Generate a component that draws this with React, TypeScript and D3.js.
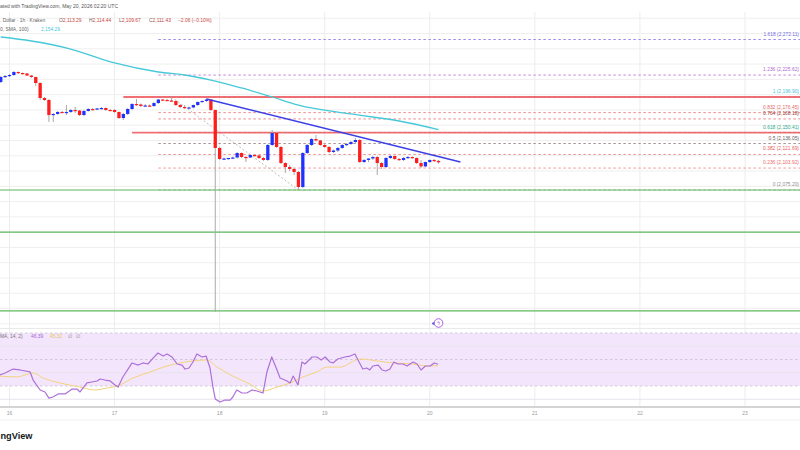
import * as d3 from 'd3'

// hourly candles, first one opens 2026-05-15 22:00 UTC (hour -2 from the 16th)
const FIRST_HOUR = -2
const OPEN = [
  2216.5, 2223.1, 2224.4, 2225.7, 2229.6, 2228.3, 2227.7, 2225.0, 2223.1, 2215.2,
  2195.6, 2193.0, 2173.3, 2174.7, 2177.3, 2176.6, 2177.3, 2179.9, 2179.2, 2173.3,
  2178.6, 2181.2, 2180.5, 2181.9, 2182.5, 2179.9, 2179.9, 2177.3, 2169.4, 2174.7,
  2181.2, 2187.7, 2187.1, 2185.1, 2185.8, 2185.1, 2189.0, 2193.6, 2193.0, 2192.3,
  2191.7, 2186.4, 2183.8, 2182.5, 2183.2, 2186.4, 2190.4, 2191.7, 2193.6, 2179.9,
  2130.2, 2115.8, 2116.4, 2117.1, 2117.7, 2123.6, 2118.4, 2117.7, 2121.0, 2120.4,
  2117.1, 2114.5, 2134.1, 2149.8, 2131.5, 2110.5, 2105.3, 2102.7, 2098.8, 2079.1,
  2123.6, 2134.1, 2141.9, 2140.0, 2134.1, 2131.5, 2124.9, 2126.9, 2130.2, 2134.1,
  2135.4, 2138.0, 2140.6, 2111.8, 2114.5, 2116.4, 2118.4, 2110.5, 2105.3, 2117.1,
  2119.7, 2115.8, 2114.5, 2117.1, 2118.4, 2117.1, 2110.5, 2106.0, 2111.8, 2114.5,
  2113.29,
]
const HIGH = [
  2224.4, 2225.7, 2227.0, 2230.9, 2230.3, 2229.0, 2228.3, 2225.7, 2223.7, 2216.5,
  2196.9, 2194.3, 2176.0, 2178.6, 2178.6, 2186.4, 2181.2, 2183.8, 2179.9, 2179.9,
  2182.5, 2182.5, 2182.5, 2183.8, 2183.2, 2181.2, 2181.2, 2177.9, 2176.0, 2182.5,
  2189.0, 2194.3, 2188.4, 2187.7, 2187.1, 2190.4, 2194.3, 2194.3, 2194.3, 2196.9,
  2192.3, 2187.7, 2186.4, 2184.5, 2187.1, 2191.0, 2192.3, 2194.9, 2194.3, 2180.5,
  2131.5, 2117.7, 2117.1, 2119.0, 2124.9, 2124.3, 2119.7, 2121.7, 2122.3, 2121.0,
  2118.4, 2135.4, 2153.7, 2151.1, 2132.8, 2111.8, 2107.9, 2104.0, 2100.1, 2124.9,
  2135.4, 2143.3, 2147.2, 2140.6, 2136.7, 2132.8, 2128.2, 2131.5, 2135.4, 2136.7,
  2139.3, 2143.3, 2141.9, 2115.8, 2117.1, 2119.7, 2119.7, 2111.8, 2118.4, 2121.0,
  2120.4, 2117.1, 2118.4, 2119.7, 2119.0, 2117.7, 2114.5, 2112.5, 2115.1, 2115.8,
  2114.44,
]
const LOW = [
  2215.2, 2221.8, 2223.1, 2224.4, 2227.0, 2226.3, 2224.4, 2221.8, 2211.3, 2193.0,
  2191.7, 2164.2, 2164.2, 2173.3, 2176.0, 2173.3, 2176.0, 2176.0, 2172.0, 2172.0,
  2177.9, 2179.2, 2179.9, 2180.5, 2178.6, 2178.6, 2176.0, 2168.1, 2166.8, 2173.3,
  2179.9, 2185.1, 2183.8, 2183.8, 2183.8, 2183.8, 2187.7, 2191.7, 2191.7, 2190.4,
  2185.1, 2182.5, 2181.2, 2181.2, 2181.9, 2185.1, 2189.7, 2190.4, 2178.6, 1915.6,
  2114.5, 2114.5, 2115.1, 2115.8, 2116.4, 2117.1, 2111.8, 2117.1, 2119.0, 2115.8,
  2113.2, 2113.2, 2132.8, 2130.2, 2109.2, 2097.5, 2100.1, 2094.8, 2075.2, 2077.8,
  2122.3, 2132.8, 2138.7, 2132.8, 2130.2, 2123.6, 2123.6, 2124.9, 2128.9, 2132.8,
  2134.1, 2136.7, 2110.5, 2110.5, 2111.8, 2114.5, 2094.8, 2102.7, 2104.0, 2115.8,
  2114.5, 2113.2, 2113.2, 2115.8, 2115.8, 2109.2, 2104.0, 2105.3, 2110.5, 2111.8,
  2109.67,
]
const CLOSE = [
  2223.1, 2224.4, 2225.7, 2229.6, 2228.3, 2227.7, 2225.0, 2223.1, 2215.2, 2195.6,
  2193.0, 2173.3, 2174.7, 2177.3, 2176.6, 2177.3, 2179.9, 2179.2, 2173.3, 2178.6,
  2181.2, 2180.5, 2181.9, 2182.5, 2179.9, 2179.2, 2177.3, 2169.4, 2174.7, 2181.2,
  2187.7, 2187.1, 2185.1, 2185.8, 2185.1, 2189.0, 2193.6, 2193.0, 2192.3, 2191.7,
  2186.4, 2183.8, 2182.5, 2183.2, 2186.4, 2190.4, 2191.7, 2193.6, 2179.9, 2130.2,
  2115.8, 2116.4, 2117.1, 2117.7, 2123.6, 2118.4, 2117.7, 2121.0, 2120.4, 2117.1,
  2114.5, 2134.1, 2149.8, 2131.5, 2110.5, 2105.3, 2102.7, 2098.8, 2079.1, 2123.6,
  2134.1, 2141.9, 2140.0, 2134.1, 2131.5, 2124.9, 2126.9, 2130.2, 2134.1, 2135.4,
  2138.0, 2140.6, 2111.8, 2114.5, 2116.4, 2118.4, 2110.5, 2105.3, 2117.1, 2119.7,
  2115.8, 2114.5, 2117.1, 2118.4, 2117.1, 2110.5, 2106.0, 2111.8, 2114.5, 2113.2,
  2111.43,
]

// SMA 100 (hours from 16th 00:00)
const SMA_HOURS = [-2, 5, 14, 24, 34, 40, 46, 53, 60, 66, 78, 89, 98]
const SMA_VALUES = [2275.4, 2270.2, 2259.7, 2241.4, 2229.6, 2225.7, 2219.1, 2208.7, 2196.9, 2186.4, 2174.7, 2165.5, 2154.3]

// RSI 14 and its moving average
const RSI_HOURS = [
  -2.2, -1, 0.8, 2.4, 4.7, 5.4, 7, 8.1, 9, 9.9, 11.1, 12.7, 14.3, 15.4, 16.1, 17.7, 18.8, 20, 20.7, 21.8,
  23, 24.1, 24.8, 25.9, 28, 29.4, 30.5, 31.6, 32.8, 33.9, 35.1, 36, 37.1, 38.3, 39.4, 40.1, 41, 41.9, 42.8, 44,
  44.9, 45.8, 46.5, 47, 48.1, 49.2, 50.4, 51, 51.9, 53.1, 54.2, 55.4, 56.5, 57.9, 58.8, 59.9, 61.1, 61.8, 63.4, 64.1,
  64.8, 65.9, 66.8, 67.5, 69.1, 70.2, 71.2, 72.1, 73.2, 73.9, 75, 76.6, 77.8, 78.9, 79.6, 80.7, 81.6, 82.3, 83, 84.2,
  85.1, 86, 86.9, 87.8, 88.7, 89.9, 90.8, 92.2, 93.1, 94, 95, 96.1, 97, 97.9,
]
const RSI_VALUES = [
  38.3, 39.8, 42.8, 42.1, 40.6, 34.5, 27.0, 25.5, 20.9, 21.7, 24.0, 24.0, 27.7, 27.7, 25.5, 32.3, 33.0, 33.8, 35.3, 34.5,
  33.8, 30.8, 29.2, 36.8, 47.4, 45.8, 47.4, 46.6, 51.1, 54.9, 52.6, 54.2, 51.9, 46.6, 45.8, 42.8, 43.6, 48.1, 54.2, 51.9,
  52.6, 43.6, 28.5, 20.2, 17.9, 19.4, 19.4, 21.7, 27.0, 24.7, 24.7, 27.0, 26.2, 24.7, 40.6, 51.9, 42.1, 36.0, 33.8, 32.3,
  37.5, 30.8, 48.1, 46.6, 51.9, 51.9, 49.6, 51.9, 48.1, 47.4, 50.4, 51.9, 52.6, 54.2, 49.6, 42.8, 43.6, 42.1, 45.1, 45.8,
  42.1, 41.3, 42.8, 48.1, 46.6, 46.6, 45.1, 48.1, 46.6, 42.1, 45.1, 45.1, 47.4, 46.39,
]
const RSI_MA_HOURS = [-2.2, 1.7, 3.5, 5.4, 7.7, 11.5, 16.1, 19.5, 22.3, 24.6, 28.2, 32.1, 36, 38.9, 41.9, 45.1, 47.4, 51, 54.9, 57.9, 61.1, 64.1, 67, 70.2, 72.5, 75.5, 80.1, 84, 87.6, 92.2, 95.4, 97.9]
const RSI_MA_VALUES = [37.5, 36.8, 38.3, 39.8, 36.0, 32.3, 29.2, 27.0, 28.5, 30.0, 36.0, 40.6, 45.1, 47.4, 48.9, 49.6, 44.3, 37.5, 31.5, 26.2, 29.2, 32.3, 36.8, 40.6, 44.3, 44.3, 50.4, 48.9, 47.4, 46.6, 45.1, 45.32]

// fibonacci retracement
const FIB_LOW = 2075.2
const FIB_HIGH = 2196.9
const FIB_LEVELS = ['1.618', '1.236', '1', '0.832', '0.764', '0.618', '0.5', '0.382', '0.236', '0']
const FIB_PRICES = [2272.11, 2225.62, 2196.9, 2176.45, 2168.18, 2150.41, 2136.05, 2121.69, 2103.92, 2075.2]
const FIB_LINE_COLORS = ['#978cf0', '#c786df', '#7fd6e3', '#f08c8c', '#ec8a8a', '#7cc9ad', '#ad9494', '#f29393', '#f29999', '#bdbdbd']
const FIB_TEXT_COLORS = ['#6e68de', '#b36ad0', '#4cc4d8', '#e46a6a', '#983838', '#2aa985', '#6d6060', '#ec5a5a', '#ec6a6a', '#8e8e8e']
const FIB_START_HOUR = 34
const FIB_DIAG = [[37, 2196.9], [66, 2075.2]]

// drawings
const TREND_LINE = [[45, 2194.3], [103, 2111.8]]
const RED_LEVELS = [2196.9, 2150.4]
const RED_STARTS = [26, 28]
const GREEN_LEVELS = [2075.2, 2020.2, 1916.9]

const DAY_TICKS = ['16', '17', '18', '19', '20', '21', '22', '23']
const DAY0 = Date.UTC(2026, 4, 16)
const HOUR = 3600e3

const FONT = '"Liberation Sans", Arial, sans-serif'
const UP = '#1f33ff'
const DOWN = '#ff1c1c'

export default function App() {
  const W = 800
  const H = 450
  const paneTop = 12
  const paneBottom = 328
  const axisY = 407

  const x = d3.scaleUtc()
    .domain([new Date(DAY0), new Date(DAY0 + 7 * 24 * HOUR)])
    .range([9.5, 745])
  const at = (h: number) => x(new Date(DAY0 + h * HOUR))
  const y = d3.scaleLinear().domain([FIB_LOW, FIB_HIGH]).range([190, 97])
  const yR = d3.scaleLinear().domain([30, 70]).range([386, 333])

  const priceGrid = d3.range(1880, 2321, 20)
  const dayDates = d3.utcDay.range(new Date(DAY0), new Date(DAY0 + 8 * 24 * HOUR))

  const smaLine = d3.line<[number, number]>()
    .x((d) => at(d[0]))
    .y((d) => y(d[1]))
    .curve(d3.curveMonotoneX)
  const rsiLine = d3.line<[number, number]>()
    .x((d) => at(d[0]))
    .y((d) => yR(d[1]))
  const rsiMaLine = d3.line<[number, number]>()
    .x((d) => at(d[0]))
    .y((d) => yR(d[1]))
    .curve(d3.curveMonotoneX)

  const smaPts = d3.zip(SMA_HOURS, SMA_VALUES) as [number, number][]
  const rsiPts = d3.zip(RSI_HOURS, RSI_VALUES) as [number, number][]
  const rsiMaPts = d3.zip(RSI_MA_HOURS, RSI_MA_VALUES) as [number, number][]

  const bw = 3.3
  const lastHour = FIRST_HOUR + CLOSE.length - 1

  return (
    <svg width={W} height={H} viewBox={`0 0 ${W} ${H}`}
      style={{ position: 'fixed', left: 0, top: 0, background: '#fff', fontFamily: FONT }}>
      <defs>
        <clipPath id="pricePane"><rect x={0} y={paneTop} width={W} height={paneBottom - paneTop} /></clipPath>
        <clipPath id="rsiPane"><rect x={0} y={paneBottom + 1} width={W} height={axisY - paneBottom - 1} /></clipPath>
      </defs>
      <rect width={W} height={H} fill="#fff" />

      {/* vertical day grid */}
      {dayDates.map((d, i) => (
        <line key={'vg' + i} x1={x(d)} x2={x(d)} y1={paneTop} y2={axisY} stroke="#ececec" strokeWidth={1} />
      ))}

      {/* price pane */}
      <g clipPath="url(#pricePane)">
        {priceGrid.map((p) => (
          <line key={'hg' + p} x1={0} x2={W} y1={y(p)} y2={y(p)} stroke="#efefef" strokeWidth={1} />
        ))}

        {/* fib levels */}
        {FIB_PRICES.map((p, i) => (
          <line key={'fl' + i} x1={at(FIB_START_HOUR)} x2={W} y1={y(p)} y2={y(p)}
            stroke={FIB_LINE_COLORS[i]} strokeWidth={1} strokeDasharray="2.5,2.5" />
        ))}
        {FIB_PRICES.map((p, i) => (
          <text key={'ft' + i} x={799} y={y(p) - 4} textAnchor="end" fontSize={4.9}
            fill={FIB_TEXT_COLORS[i]}>
            {`${FIB_LEVELS[i]} (${d3.format(',.2f')(p)})`}
          </text>
        ))}
        <line x1={at(FIB_DIAG[0][0])} y1={y(FIB_DIAG[0][1])} x2={at(FIB_DIAG[1][0])} y2={y(FIB_DIAG[1][1])}
          stroke="#bdbdbd" strokeWidth={1} strokeDasharray="2,2" />

        {/* horizontal drawings */}
        {RED_LEVELS.map((p, i) => (
          <line key={'rl' + i} x1={at(RED_STARTS[i])} x2={W} y1={y(p)} y2={y(p)}
            stroke="#f0575c" strokeOpacity={0.85} strokeWidth={1.8} />
        ))}
        {GREEN_LEVELS.map((p, i) => (
          <line key={'gl' + i} x1={0} x2={W} y1={y(p)} y2={y(p)} stroke="#5cb85f" strokeWidth={1.2} />
        ))}

        {/* SMA 100 */}
        <path d={smaLine(smaPts) ?? ''} fill="none" stroke="#45c9d9" strokeWidth={1.3} />

        {/* candles */}
        {CLOSE.map((c, i) => {
          const o = OPEN[i]
          const cx = at(FIRST_HOUR + i)
          const top = y(Math.max(o, c))
          const bot = y(Math.min(o, c))
          return (
            <g key={'c' + i}>
              <line x1={cx} x2={cx} y1={y(HIGH[i])} y2={y(LOW[i])} stroke="#a9a9a9" strokeWidth={1} />
              <rect x={cx - bw / 2} y={top} width={bw} height={Math.max(1.2, bot - top)}
                fill={c >= o ? UP : DOWN} />
            </g>
          )
        })}

        {/* trend line */}
        <line x1={at(TREND_LINE[0][0])} y1={y(TREND_LINE[0][1])} x2={at(TREND_LINE[1][0])} y2={y(TREND_LINE[1][1])}
          stroke="#3a3fe6" strokeWidth={1.5} />

        {/* event marker */}
        <circle cx={at(lastHour) - 5} cy={323.5} r={1.3} fill="#3f55e6" />
        <circle cx={at(lastHour)} cy={323} r={4.3} fill="#fff" stroke="#b061e0" strokeWidth={1} />
        <text x={at(lastHour)} y={325} textAnchor="middle" fontSize={5} fontWeight="bold" fill="#b061e0">ϟ</text>
      </g>

      {/* pane separator */}
      <line x1={0} x2={W} y1={paneBottom + 0.5} y2={paneBottom + 0.5} stroke="#e9e9e9" strokeWidth={1} />

      {/* RSI pane */}
      <g clipPath="url(#rsiPane)">
        <rect x={0} y={yR(70)} width={W} height={yR(30) - yR(70)} fill="#f3e6fc" />
        {[20, 40, 60].map((v) => (
          <line key={'rg' + v} x1={0} x2={W} y1={yR(v)} y2={yR(v)} stroke="#e8e3ec" strokeWidth={1} />
        ))}
        {[70, 50, 30].map((v) => (
          <line key={'rb' + v} x1={0} x2={W} y1={yR(v)} y2={yR(v)} stroke="#c8c0cf" strokeWidth={0.8} strokeDasharray="2.5,2.5" />
        ))}
        <path d={rsiMaLine(rsiMaPts) ?? ''} fill="none" stroke="#f3d27c" strokeWidth={1} />
        <path d={rsiLine(rsiPts) ?? ''} fill="none" stroke="#ad6fd9" strokeWidth={1.2} strokeLinejoin="round" />
      </g>

      {/* time axis */}
      <line x1={0} x2={W} y1={axisY} y2={axisY} stroke="#c6c6c6" strokeWidth={1.5} />
      <line x1={0} x2={W} y1={420} y2={420} stroke="#f0f0f0" strokeWidth={1} />
      {dayDates.map((d, i) => (
        <text key={'xt' + i} x={x(d)} y={415} textAnchor="middle" fontSize={5} fill="#9a9a9a">{DAY_TICKS[i]}</text>
      ))}

      {/* legends */}
      <text x={0} y={8} fontSize={5} fill="#555">ated with TradingView.com, May 20, 2026 02:20 UTC</text>
      <g fontSize={4.9}>
        <text x={0} y={21.8} fill="#666">. Dollar · 1h · Kraken</text>
        <text x={59} y={21.8} fill="#666">O<tspan fill="#c9463d">2,113.29</tspan></text>
        <text x={89} y={21.8} fill="#666">H<tspan fill="#c9463d">2,114.44</tspan></text>
        <text x={119} y={21.8} fill="#666">L<tspan fill="#c9463d">2,109.67</tspan></text>
        <text x={149} y={21.8} fill="#666">C<tspan fill="#c9463d">2,111.43</tspan></text>
        <text x={178} y={21.8} fill="#c9463d">−2.06 (−0.10%)</text>
        <text x={0} y={30.8} fill="#666">0, SMA, 100)</text>
        <text x={41} y={30.8} fill="#3fc6d6">2,154.29</text>
        <text x={0} y={337.8} fill="#777">MA, 14, 2)</text>
        <text x={31} y={337.8} fill="#a464d6">46.39</text>
        <text x={50} y={337.8} fill="#e8c45a">45.32</text>
        <text x={68} y={337.8} fill="#888">∅</text>
        <text x={76} y={337.8} fill="#888">∅</text>
      </g>

      <text x={0.5} y={438.5} fontSize={9.2} fontWeight="bold" fill="#131722">ngView</text>
    </svg>
  )
}
